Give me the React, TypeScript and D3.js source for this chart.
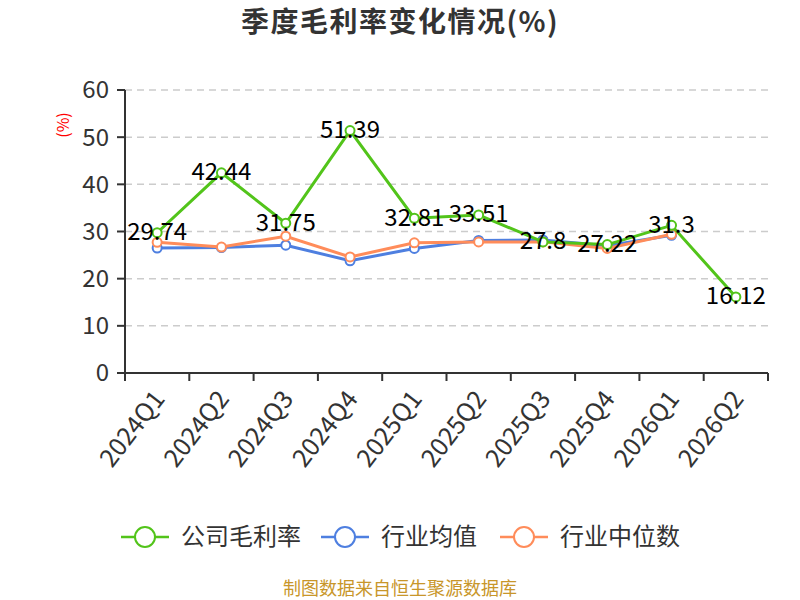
import React from "react";
import * as d3 from "d3";

const categories = ["2024Q1","2024Q2","2024Q3","2024Q4","2025Q1","2025Q2","2025Q3","2025Q4","2026Q1","2026Q2"];
const companyValues = [29.74, 42.44, 31.75, 51.39, 32.81, 33.51, 27.8, 27.22, 31.3, 16.12];
const industryAvg: (number | null)[] = [26.5, 26.6, 27.1, 23.8, 26.4, 28.1, 28.2, 27.0, 29.2, null];
const industryMedian: (number | null)[] = [27.7, 26.7, 29.0, 24.6, 27.6, 27.8, 27.8, 26.4, 29.4, null];
const yTicks = [0, 10, 20, 30, 40, 50, 60];

const seriesNames = ["公司毛利率", "行业均值", "行业中位数"];
const colors = ["#52c41a", "#4e7fe0", "#ff8c5a"];

const W = 800, H = 600;
const left = 125, right = 768, top = 90, bottom = 373;
const font = "'Noto Sans CJK SC', 'Noto Sans', sans-serif";

export default function App() {
  const x = d3.scaleBand<string>().domain(categories).range([left, right]);
  const y = d3.scaleLinear().domain([0, 60]).range([bottom, top]);
  const cx = (c: string) => (x(c) as number) + x.bandwidth() / 2;

  const line = d3.line<[string, number | null]>()
    .defined(d => d[1] != null)
    .x(d => cx(d[0]))
    .y(d => y(d[1] as number));

  const series = [companyValues, industryAvg, industryMedian];
  const drawOrder = [1, 2, 0];

  return (
    <svg width={W} height={H} style={{ display: "block", position: "absolute", left: 0, top: 0 }}>
      <rect width={W} height={H} fill="#fff" />
      <text x={400} y={32} textAnchor="middle" fontFamily={font} fontSize={28} fontWeight="bold" letterSpacing={1.5} fill="#333">季度毛利率变化情况(%)</text>
      {yTicks.map(t => (
        <g key={t}>
          {t > 0 && <line x1={left} x2={right} y1={y(t)} y2={y(t)} stroke="#ccc" strokeDasharray="7,5" strokeWidth={1.5} />}
          <line x1={left - 8} x2={left} y1={y(t)} y2={y(t)} stroke="#333" strokeWidth={2} />
          <text x={left - 16} y={y(t)} dy="0.35em" textAnchor="end" fontFamily={font} fontSize={24} fill="#333">{t}</text>
        </g>
      ))}
      <text transform={`translate(63,125) rotate(-90)`} textAnchor="middle" dy="0.35em" fontFamily={font} fontSize={16} fill="red">(%)</text>
      <line x1={left} x2={left} y1={top} y2={bottom + 8} stroke="#333" strokeWidth={2} />
      <line x1={left} x2={right} y1={bottom} y2={bottom} stroke="#333" strokeWidth={2} />
      {categories.concat(["end"]).map((c, i) => {
        const xx = left + i * x.bandwidth();
        return <line key={c} x1={xx} x2={xx} y1={bottom} y2={bottom + 8} stroke="#333" strokeWidth={2} />;
      })}
      {categories.map(c => (
        <text key={c} transform={`translate(${cx(c) + 2},${bottom + 21}) rotate(-52)`} textAnchor="end" dy="0.35em" fontFamily={font} fontSize={25} fill="#333">{c}</text>
      ))}
      {drawOrder.map(si => {
        const data = categories.map((c, i) => [c, series[si][i]] as [string, number | null]);
        return (
          <g key={si}>
            <path d={line(data) || ""} fill="none" stroke={colors[si]} strokeWidth={3} />
            {data.filter(d => d[1] != null).map(d => (
              <circle key={d[0]} cx={cx(d[0])} cy={y(d[1] as number)} r={4.5} fill="#fff" stroke={colors[si]} strokeWidth={2} />
            ))}
          </g>
        );
      })}
      {categories.map((c, i) => (
        <text key={c} x={cx(c)} y={y(companyValues[i]) - 1} dy="0.35em" textAnchor="middle" fontFamily={font} fontSize={24} fill="#000">{companyValues[i]}</text>
      ))}
      {seriesNames.map((n, i) => {
        const lx = [121, 321, 500][i];
        const ly = 537;
        return (
          <g key={n}>
            <line x1={lx} x2={lx + 48} y1={ly} y2={ly} stroke={colors[i]} strokeWidth={2.5} />
            <circle cx={lx + 24} cy={ly} r={10} fill="#fff" stroke={colors[i]} strokeWidth={2} />
            <text x={lx + 60} y={ly} dy="0.35em" fontFamily={font} fontSize={24} fill="#333">{n}</text>
          </g>
        );
      })}
      <text x={400} y={589} dy="0.35em" textAnchor="middle" fontFamily={font} fontSize={18} fill="#c8962a">制图数据来自恒生聚源数据库</text>
    </svg>
  );
}
